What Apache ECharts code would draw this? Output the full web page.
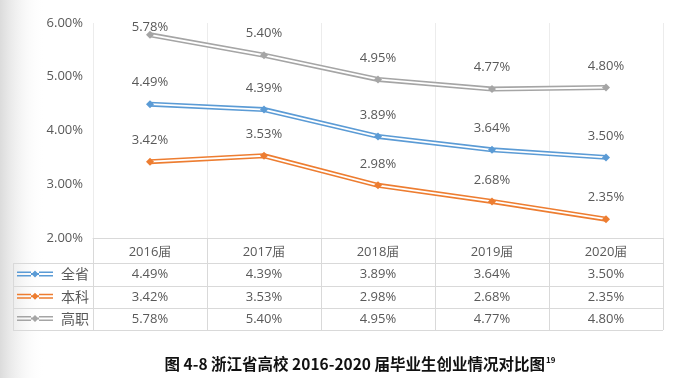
<!DOCTYPE html>
<html>
<head>
<meta charset="utf-8">
<script src="https://cdn.jsdelivr.net/npm/echarts@6/dist/echarts.min.js"></script>
<style>
html,body{margin:0;padding:0;background:#fff;}
#chart{width:681px;height:378px;}
</style>
</head>
<body>
<div id="chart"></div>
<script>
const categories = ['2016届', '2017届', '2018届', '2019届', '2020届'];
const seriesNames = ['全省', '本科', '高职'];
const quanSheng = [4.49, 4.39, 3.89, 3.64, 3.50];
const benKe = [3.42, 3.53, 2.98, 2.68, 2.35];
const gaoZhi = [5.78, 5.40, 4.95, 4.77, 4.80];
const yMin = 2, yMax = 6, yInterval = 1;
const caption = '图 4-8 浙江省高校 2016-2020 届毕业生创业情况对比图';
const captionNote = '19';

const colors = ['#5B9BD5', '#ED7D31', '#A5A5A5'];
const allData = [quanSheng, benKe, gaoZhi];
const numFont = 'Open Sans';
const txtColor = '#595959';
const fmt = v => Number(v).toFixed(2) + '%';

const chart = echarts.init(document.getElementById('chart'), null, {renderer: 'canvas'});

const series = [];
allData.forEach((d, k) => {
  series.push({
    name: seriesNames[k], type: 'line', data: d, symbol: 'none',
    lineStyle: {color: colors[k], width: 5}, itemStyle: {color: colors[k]},
    z: 2, silent: true, animation: false
  });
  series.push({
    type: 'line', data: d, symbol: 'none',
    lineStyle: {color: '#ffffff', width: 1.8}, z: 3, silent: true, animation: false
  });
  series.push({
    type: 'line', data: d.map((v, i) => (k === 2 && i === 0) ? {value: v, label: {offset: [0, 14]}} : v),
    symbol: 'diamond', symbolSize: 8,
    lineStyle: {width: 0, opacity: 0}, itemStyle: {color: colors[k]},
    label: {show: true, position: 'top', distance: 11, formatter: p => fmt(p.value),
      fontFamily: numFont, fontSize: 13, color: txtColor},
    z: 4, animation: false
  });
});

const rowMargins = [36.5, 59, 81];
const xAxes = [{
  type: 'category', data: categories, boundaryGap: true, gridIndex: 0, position: 'bottom',
  axisLine: {show: true, lineStyle: {color: '#d9d9d9', width: 1}},
  axisTick: {show: true, length: 92, interval: 0, lineStyle: {color: '#d9d9d9'}},
  splitLine: {show: true, interval: 0, lineStyle: {color: '#ececec'}},
  axisLabel: {margin: 14, verticalAlign: 'middle', fontFamily: numFont, fontSize: 13, color: txtColor, interval: 0}
}];
allData.forEach((d, k) => {
  xAxes.push({
    type: 'category', data: categories, boundaryGap: true, gridIndex: 0, position: 'bottom', offset: 0,
    axisLine: {show: false}, axisTick: {show: false}, splitLine: {show: false},
    axisLabel: {margin: rowMargins[k], verticalAlign: 'middle', interval: 0,
      fontFamily: numFont, fontSize: 13, color: txtColor,
      formatter: (val, idx) => fmt(d[idx])}
  });
});

const legendIcon = 'path://M0,2.5 L14,2.5 L14,4 L0,4 Z M0,6 L14,6 L14,7.5 L0,7.5 Z M22,2.5 L36,2.5 L36,4 L22,4 Z M22,6 L36,6 L36,7.5 L22,7.5 Z M14,4 L22,4 L22,6 L14,6 Z M18,1.5 L21.5,5 L18,8.5 L14.5,5 Z';

const tableLine = (x1, y1, x2, y2) => ({type: 'line', shape: {x1, y1, x2, y2}, style: {stroke: '#d9d9d9', lineWidth: 1}, silent: true});

chart.setOption({
  backgroundColor: '#ffffff',
  animation: false,
  grid: {left: 93, right: 18, top: 23, bottom: 140, containLabel: false},
  xAxis: xAxes,
  yAxis: {
    type: 'value', min: yMin, max: yMax, interval: yInterval,
    axisLine: {show: false}, axisTick: {show: false}, splitLine: {show: false},
    axisLabel: {formatter: v => fmt(v), margin: 10, fontFamily: numFont, fontSize: 13, color: txtColor}
  },
  legend: {
    data: seriesNames.map(n => ({name: n, icon: legendIcon})),
    orient: 'vertical', left: 17, top: 267, padding: 0, itemWidth: 36, itemHeight: 10, itemGap: 8.3,
    itemStyle: {borderWidth: 0}, lineStyle: {width: 0},
    textStyle: {fontFamily: 'Noto Sans CJK SC', fontSize: 14, lineHeight: 12, color: txtColor, padding: [0, 0, 0, 3]},
    selectedMode: false
  },
  graphic: [
    {type: 'rect', z: -10, shape: {x: 0, y: 0, width: 45, height: 378},
      style: {fill: new echarts.graphic.LinearGradient(0, 0, 1, 0, [
        {offset: 0, color: 'rgba(190,190,190,0.55)'}, {offset: 1, color: 'rgba(255,255,255,0)'}])}, silent: true},
    tableLine(13, 263.5, 663, 263.5),
    tableLine(13, 286.5, 663, 286.5),
    tableLine(13, 308.5, 663, 308.5),
    tableLine(13, 330.5, 663, 330.5),
    tableLine(13.5, 263, 13.5, 331),
    {type: 'text', x: 360, y: 364,
      style: {text: '{a|' + caption + '}{s|' + captionNote + '}', align: 'center', verticalAlign: 'middle',
        rich: {a: {fontFamily: 'Noto Sans CJK SC', fontWeight: 'bold', fontSize: 15.5, fill: '#111'},
               s: {fontFamily: 'Noto Sans CJK SC', fontWeight: 'bold', fontSize: 8, fill: '#111', verticalAlign: 'top', padding: [0, 0, 8, 1]}}}}
  ],
  series: series
});
</script>
</body>
</html>
